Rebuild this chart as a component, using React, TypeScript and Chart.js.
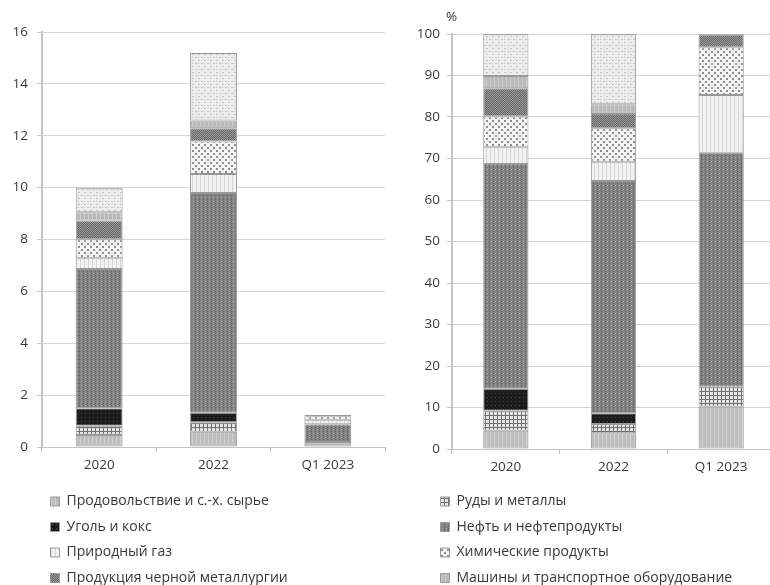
import React, { useEffect, useRef } from 'react';
import { Chart, registerables } from 'chart.js';
Chart.register(...registerables);

const categories = ['2020', '2022', 'Q1 2023'];

const seriesNames = [
  'Продовольствие и с.-х. сырье',
  'Руды и металлы',
  'Уголь и кокс',
  'Нефть и нефтепродукты',
  'Природный газ',
  'Химические продукты',
  'Продукция черной металлургии',
  'Машины и транспортное оборудование',
  'Прочее',
];

// left panel, absolute values
const foodValues = [0.46, 0.59, 0.13];
const oresValues = [0.36, 0.36, 0.06];
const coalValues = [0.67, 0.37, 0];
const oilValues = [5.37, 8.47, 0.69];
const gasValues = [0.42, 0.74, 0.17];
const chemValues = [0.73, 1.25, 0.14];
const ferrousValues = [0.72, 0.51, 0.04];
const machineryValues = [0.32, 0.3, 0.0];
const otherValues = [0.95, 2.6, 0.0];

// right panel, shares, %
const foodShare = [4.4, 3.8, 10.2];
const oresShare = [4.8, 2.2, 4.8];
const coalShare = [5.3, 2.6, 0];
const oilShare = [54.2, 56.0, 56.4];
const gasShare = [4.0, 4.6, 13.9];
const chemShare = [7.4, 8.1, 11.5];
const ferrousShare = [6.8, 3.4, 3.0];
const machineryShare = [3.0, 2.4, 0.2];
const otherShare = [10.1, 16.9, 0];

const leftTicks = [0, 2, 4, 6, 8, 10, 12, 14, 16];
const rightTicks = [0, 10, 20, 30, 40, 50, 60, 70, 80, 90, 100];

const leftLegendIdx = [0, 2, 4, 6];
const rightLegendIdx = [1, 3, 5, 7];

const FONT = '"Open Sans", "Noto Sans", sans-serif';
const TEXT = '#383838';

function tile(w: number, h: number, draw: (c: CanvasRenderingContext2D) => void) {
  const cv = document.createElement('canvas');
  cv.width = w;
  cv.height = h;
  const c = cv.getContext('2d')!;
  draw(c);
  const ctx = document.createElement('canvas').getContext('2d')!;
  return ctx.createPattern(cv, 'repeat') as CanvasPattern;
}

function makePatterns() {
  const food = tile(4, 4, (c) => {
    c.fillStyle = '#bdbdbd';
    c.fillRect(0, 0, 4, 4);
    c.fillStyle = '#d0d0d0';
    c.fillRect(0, 0, 1, 4);
  });
  const ores = tile(4, 4, (c) => {
    c.fillStyle = '#e4e4e4';
    c.fillRect(0, 0, 4, 4);
    c.fillStyle = '#707070';
    c.fillRect(0, 3, 4, 1);
    c.fillRect(3, 0, 1, 4);
  });
  const coal = tile(4, 4, (c) => {
    c.fillStyle = '#1c1c1c';
    c.fillRect(0, 0, 4, 4);
    c.fillStyle = '#484848';
    c.fillRect(1, 1, 1, 1);
  });
  const oil = tile(4, 4, (c) => {
    c.fillStyle = '#848484';
    c.fillRect(0, 0, 4, 4);
    c.fillStyle = '#b0b0b0';
    c.fillRect(1, 1, 1, 1);
    c.fillStyle = '#5c5c5c';
    c.fillRect(3, 3, 1, 1);
    c.fillRect(3, 1, 1, 1);
  });
  const gas = tile(4, 4, (c) => {
    c.fillStyle = '#f2f2f2';
    c.fillRect(0, 0, 4, 4);
    c.fillStyle = '#d6d6d6';
    c.fillRect(0, 0, 1, 4);
  });
  const chem = tile(6, 6, (c) => {
    c.fillStyle = '#f3f3f3';
    c.fillRect(0, 0, 6, 6);
    c.fillStyle = '#8e8e8e';
    c.fillRect(0, 0, 2, 2);
    c.fillRect(3, 3, 2, 2);
  });
  const ferrous = tile(2, 2, (c) => {
    c.fillStyle = '#646464';
    c.fillRect(0, 0, 2, 2);
    c.fillStyle = '#9c9c9c';
    c.fillRect(0, 0, 1, 1);
    c.fillRect(1, 1, 1, 1);
  });
  const machinery = tile(4, 4, (c) => {
    c.fillStyle = '#bababa';
    c.fillRect(0, 0, 4, 4);
    c.fillStyle = '#cbcbcb';
    c.fillRect(0, 0, 1, 4);
  });
  const other = tile(6, 6, (c) => {
    c.fillStyle = '#ececec';
    c.fillRect(0, 0, 6, 6);
    c.fillStyle = '#c4c4c4';
    c.fillRect(0, 0, 2, 1);
    c.fillRect(3, 3, 2, 1);
    c.fillRect(0, 3, 1, 1);
  });
  return [food, ores, coal, oil, gas, chem, ferrous, machinery, other];
}

function buildDatasets(series: number[][], patterns: CanvasPattern[], bar: number) {
  return series.map((data, i) => ({
    label: seriesNames[i],
    data,
    backgroundColor: patterns[i],
    borderColor: '#999999',
    borderWidth: 1,
    borderSkipped: false as const,
    barPercentage: bar,
    categoryPercentage: 1,
  }));
}

function mainOptions(max: number, ticks: number[], yWidth: number, xHeight: number, top: number, right: number, tickPad: number) {
  return {
    responsive: false,
    animation: false as const,
    layout: { padding: { left: 0, right, top, bottom: 0 } },
    plugins: { legend: { display: false }, tooltip: { enabled: false } },
    scales: {
      x: {
        stacked: true,
        afterFit: (s: any) => {
          s.height = xHeight;
        },
        grid: { drawOnChartArea: false, tickLength: 5, color: '#c4c4c4', offset: true },
        border: { color: '#c4c4c4', width: 1 },
        ticks: { color: TEXT, font: { family: FONT, size: 13.5 }, padding: 5 },
      },
      y: {
        stacked: true,
        min: 0,
        max,
        afterFit: (s: any) => {
          s.width = yWidth;
        },
        afterBuildTicks: (s: any) => {
          s.ticks = ticks.map((v) => ({ value: v }));
        },
        grid: { color: '#d4d4d4', lineWidth: 1, tickLength: 5, tickColor: '#c4c4c4' },
        border: { color: '#c4c4c4', width: 2 },
        ticks: { color: TEXT, font: { family: FONT, size: 13.5 }, padding: tickPad },
      },
    },
  };
}

const percentLabel = {
  id: 'percentLabel',
  afterDraw(chart: any) {
    const { ctx, chartArea } = chart;
    ctx.save();
    ctx.font = `13.5px ${FONT}`;
    ctx.fillStyle = TEXT;
    ctx.textBaseline = 'middle';
    ctx.textAlign = 'left';
    ctx.fillText('%', chartArea.left - 6, 17);
    ctx.restore();
  },
};

function legendConfig(patterns: CanvasPattern[], idx: number[]) {
  return {
    type: 'bar' as const,
    data: {
      labels: [] as string[],
      datasets: idx.map((i) => ({
        label: seriesNames[i],
        data: [] as number[],
        backgroundColor: patterns[i],
        borderColor: '#999999',
        borderWidth: 1,
      })),
    },
    options: {
      responsive: false,
      animation: false as const,
      layout: { padding: 0 },
      scales: { x: { display: false }, y: { display: false } },
      plugins: {
        tooltip: { enabled: false },
        legend: {
          position: 'left' as const,
          align: 'start' as const,
          maxWidth: 500,
          labels: {
            boxWidth: 9,
            boxHeight: 9,
            padding: 11.5,
            color: TEXT,
            font: { family: FONT, size: 14 },
          },
        },
      },
    },
  };
}

export default function App() {
  const leftRef = useRef<HTMLCanvasElement>(null);
  const rightRef = useRef<HTMLCanvasElement>(null);
  const legLRef = useRef<HTMLCanvasElement>(null);
  const legRRef = useRef<HTMLCanvasElement>(null);

  useEffect(() => {
    const patterns = makePatterns();
    const charts: Chart[] = [];
    const leftSeries = [foodValues, oresValues, coalValues, oilValues, gasValues, chemValues, ferrousValues, machineryValues, otherValues];
    const rightSeries = [foodShare, oresShare, coalShare, oilShare, gasShare, chemShare, ferrousShare, machineryShare, otherShare];

    charts.push(
      new Chart(leftRef.current!, {
        type: 'bar',
        data: { labels: categories, datasets: buildDatasets(leftSeries, patterns, 0.41) },
        options: mainOptions(16, leftTicks, 42, 33, 32, 5, 9) as any,
      })
    );
    charts.push(
      new Chart(rightRef.current!, {
        type: 'bar',
        data: { labels: categories, datasets: buildDatasets(rightSeries, patterns, 0.42) },
        options: mainOptions(100, rightTicks, 62, 31, 34, 1, 7) as any,
        plugins: [percentLabel],
      })
    );
    charts.push(new Chart(legLRef.current!, legendConfig(patterns, leftLegendIdx) as any));
    charts.push(new Chart(legRRef.current!, legendConfig(patterns, rightLegendIdx) as any));
    return () => charts.forEach((c) => c.destroy());
  }, []);

  return (
    <div style={{ position: 'fixed', left: 0, top: 0, width: 770, height: 585, overflow: 'hidden', background: '#ffffff' }}>
      <canvas ref={leftRef} width={390} height={480} style={{ position: 'absolute', left: 0, top: 0 }} />
      <canvas ref={rightRef} width={386} height={480} style={{ position: 'absolute', left: 390, top: 0 }} />
      <canvas ref={legLRef} width={800} height={130} style={{ position: 'absolute', left: 38.5, top: 483 }} />
      <canvas ref={legRRef} width={800} height={130} style={{ position: 'absolute', left: 428.5, top: 483 }} />
    </div>
  );
}
